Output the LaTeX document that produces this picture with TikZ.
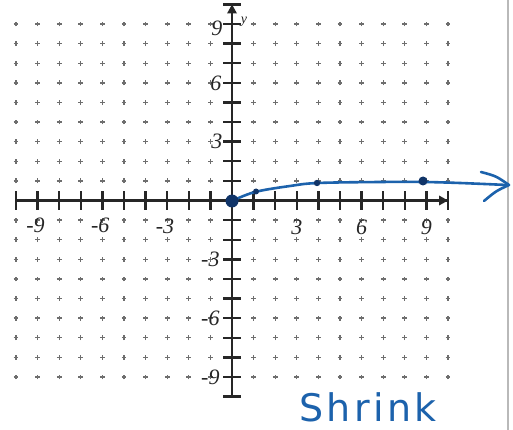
\documentclass[tikz,border=0pt]{standalone}
\usepackage{fontspec}
\usetikzlibrary{arrows.meta}
\definecolor{ink}{RGB}{28,98,172}
\definecolor{navy}{RGB}{16,52,104}
\definecolor{dotgray}{RGB}{110,110,110}
\newfontfamily\handfont[LetterSpace=9]{DejaVu Sans}
\newfontfamily\labfont{Liberation Serif}
\tikzset{
  plusmark/.style={draw=dotgray, line width=1.3pt},
  axisline/.style={draw=black!85, line width=2.6pt},
  tickmark/.style={draw=black!85, line width=2.4pt},
  lab/.style={font=\labfont\itshape\fontsize{22}{22}\selectfont, text=black!85, inner sep=0pt},
  curve/.style={draw=ink, line width=2.6pt, line cap=round, line join=round},
  ptdot/.style={fill=navy}
}
\begin{document}
\begin{tikzpicture}[x=1pt,y=-1pt]
\useasboundingbox (0,0) rectangle (513,430);
\fill[white] (0,0) rectangle (513,430);
\draw[gray!55, line width=1.3pt] (508,0) -- (508,430);
\begin{scope}[shift={(232pt,-200.5pt)}, x=21.6pt, y=19.6pt]
  \foreach \i in {-10,...,10}{
    \foreach \j in {-9,...,9}{
      \ifnum\i=0 \else \ifnum\j=0 \else
        \draw[plusmark] (\i,\j) +(-2.4pt,0) -- +(2.4pt,0) (\i,\j) +(0,-2.4pt) -- +(0,2.4pt);
      \fi\fi
    }
  }
  \draw[axisline] (-10,0) -- (10,0);
  \draw[axisline] (0,-10) -- (0,10);
  \foreach \i in {-10,...,10}{
    \ifnum\i=0 \else
      \draw[tickmark] (\i,0) +(0,-9pt) -- +(0,9pt);
      \draw[tickmark] (0,\i) +(-9pt,0) -- +(9pt,0);
    \fi
  }
  \fill[black!85] (10,0) ++(-9pt,5pt) -- ++(9pt,-5pt) -- ++(-9pt,-5pt) -- cycle;
  \fill[black!85] (0,10) ++(-5pt,-9pt) -- ++(5pt,9pt) -- ++(5pt,-9pt) -- cycle;
  \node[lab] (y9) at (-0.7,8.8) {9};
  \node[lab] (y6) at (-0.75,6) {6};
  \node[lab] (y3) at (-0.7,3) {3};
  \node[lab] (ym3) at (-1.0,-3) {-3};
  \node[lab] (ym6) at (-1.0,-6) {-6};
  \node[lab] (ym9) at (-1.0,-9) {-9};
  \node[lab] (xm9) at (-9.1,-1.25) {-9};
  \node[lab] (xm6) at (-6.1,-1.25) {-6};
  \node[lab] (xm3) at (-3.1,-1.3) {-3};
  \node[lab] (x3) at (3,-1.35) {3};
  \node[lab] (x6) at (6,-1.35) {6};
  \node[lab] (x9) at (9,-1.35) {9};
\end{scope}
\node[font=\labfont\itshape\fontsize{14}{14}\selectfont, text=black!85, inner sep=0pt] (ylab) at (244,22) {y};
\draw[curve] plot[smooth, tension=0.6] coordinates {(232,201) (255,192) (290,186) (318,183) (380,182) (423,182) (460,183) (507,185)};
\draw[curve] (481,172) .. controls (496,176) .. (509,185) .. controls (496,191) .. (484,201);
\fill[ptdot] (232,201) circle (6.5);
\fill[ptdot] (256,191.5) circle (3);
\fill[ptdot] (317,183) circle (3.2);
\fill[ptdot] (423,181) circle (4.5);
\node[font=\handfont\fontsize{38}{38}\selectfont, text=ink, inner sep=0pt] (shrink) at (368,407) {Shrink};
\end{tikzpicture}
\end{document}
